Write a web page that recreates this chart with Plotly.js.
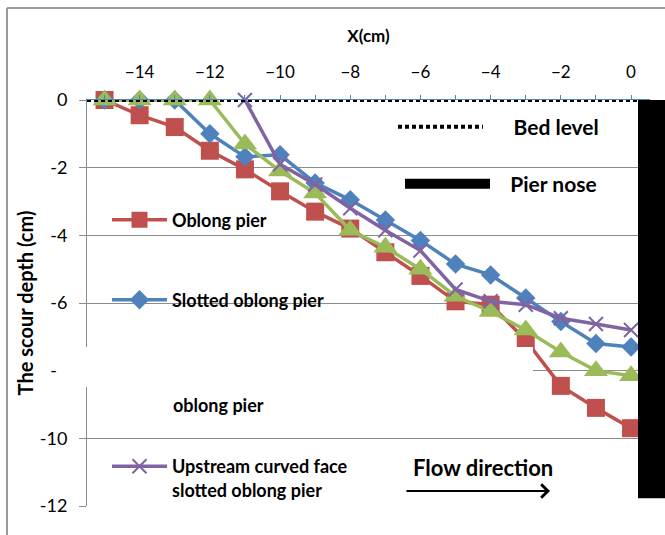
<!DOCTYPE html>
<html>
<head>
<meta charset="utf-8">
<script src="https://cdn.plot.ly/plotly-3.0.1.min.js"></script>
<style>html,body{margin:0;padding:0;background:#fff;}#chart{width:665px;height:535px;}</style>
</head>
<body>
<div id="chart"></div>
<script>
// ---- data ----
const xCm = [-15,-14,-13,-12,-11,-10,-9,-8,-7,-6,-5,-4,-3,-2,-1,0];
const oblongPier = [0,-0.45,-0.8,-1.5,-2.05,-2.7,-3.3,-3.8,-4.5,-5.2,-5.95,-6.05,-7.1,-8.45,-9.1,-9.7];
const slottedOblongPier = [0,0,0,-1.0,-1.68,-1.62,-2.45,-2.95,-3.55,-4.15,-4.85,-5.17,-5.85,-6.55,-7.2,-7.3];
const curvedOblongPier = [0,0,0,0,-1.3,-2.1,-2.75,-3.85,-4.35,-5.0,-5.8,-6.25,-6.8,-7.45,-8.0,-8.15];
const xCmCurvedSlotted = [-11,-10,-9,-8,-7,-6,-5,-4,-3,-2,-1,0];
const curvedSlottedOblongPier = [0,-1.9,-2.5,-3.2,-3.85,-4.45,-5.6,-5.95,-6.05,-6.45,-6.62,-6.8];
const bedLevelX = [-15.5, 0.5];
const bedLevelY = [0, 0];
const pierNoseX = [0.5, 0.5];
const pierNoseY = [0, -11.77];
const xTickVals = [-14,-12,-10,-8,-6,-4,-2,0];
const yTickVals = [0,-2,-4,-6,-8,-10,-12];
const yTickText = ['0','-2','-4','-6','-8','-10','-12'];

// ---- layout helpers (pixel -> paper) ----
const W = 665, H = 535, ML = 87, MR = 0, MT = 100, MB = 29;
const PW = W - ML - MR, PH = H - MT - MB;
const px = v => (v - ML) / PW;
const py = v => (H - MB - v) / PH;

const FONT = 'Lato, "Open Sans", sans-serif';
const RED = '#C0504D', BLUE = '#4F81BD', GREEN = '#9BBB59', PURPLE = '#8064A2';
const GRID = '#8c8c8c';
const NB = '\u00a0';

const traces = [
  {x: xCm, y: oblongPier, name: 'Oblong pier', mode: 'lines+markers', cliponaxis: false,
   line: {color: RED, width: 3.5}, marker: {symbol: 'square', size: 18, color: RED}, legend: 'legend'},
  {x: xCm, y: slottedOblongPier, name: 'Slotted oblong pier', mode: 'lines+markers', cliponaxis: false,
   line: {color: BLUE, width: 3.5}, marker: {symbol: 'diamond', size: 15, color: BLUE}, legend: 'legend2'},
  {x: xCm, y: curvedOblongPier, name: 'Upstream curved face oblong pier', mode: 'lines+markers', cliponaxis: false,
   line: {color: GREEN, width: 3.5}, marker: {symbol: 'triangle-up', size: 21, color: GREEN}, showlegend: false},
  {x: xCmCurvedSlotted, y: curvedSlottedOblongPier, name: 'Upstream curved face<br>slotted oblong pier', mode: 'lines+markers', cliponaxis: false,
   line: {color: PURPLE, width: 3.5}, marker: {symbol: 'x-thin-open', size: 14, color: PURPLE, line: {color: PURPLE, width: 2}}, legend: 'legend3'},
  {x: bedLevelX, y: bedLevelY, name: NB.repeat(5) + 'Bed level', mode: 'lines',
   line: {color: '#000', width: 4, dash: '4px,3px'}, legend: 'legend4'},
  {x: pierNoseX, y: pierNoseY, name: NB.repeat(3) + 'Pier nose', mode: 'lines', xaxis: 'x2', yaxis: 'y2',
   line: {color: '#000', width: 27}, legend: 'legend5'}
];

const legendBase = {xanchor: 'left', bgcolor: 'rgba(0,0,0,0)', borderwidth: 0,
  font: {family: FONT, size: 18, color: '#000', weight: 'bold'}};

const layout = {
  width: W, height: H,
  margin: {l: ML, r: MR, t: MT, b: MB, pad: 0},
  paper_bgcolor: '#fff', plot_bgcolor: 'rgba(0,0,0,0)',
  font: {family: FONT, color: '#000'},
  xaxis: {
    domain: [0, (650 - ML) / PW], range: [-15.5, 0.54], side: 'top', anchor: 'y',
    tickvals: xTickVals, ticks: 'outside', ticklen: 4, tickcolor: BLUE, tickwidth: 1,
    minor: {dtick: 1, tick0: 0, ticks: 'outside', ticklen: 4, tickcolor: BLUE, showgrid: false},
    showline: true, linecolor: BLUE, linewidth: 1, showgrid: false, zeroline: false,
    tickfont: {family: FONT, size: 17, color: '#000'}, ticklabelstandoff: 10,
    title: {text: 'X(cm)', font: {family: FONT, size: 17, color: '#000', weight: 'bold'}, standoff: 14}
  },
  yaxis: {
    range: [-12, 0], tickvals: yTickVals, ticktext: yTickText,
    ticks: 'outside', ticklen: 7, tickcolor: GRID, showline: true, linecolor: GRID, linewidth: 1,
    showgrid: true, gridcolor: GRID, gridwidth: 1, zeroline: false,
    tickfont: {family: FONT, size: 18, color: '#000'}, ticklabelstandoff: 8,
    title: {text: 'The scour depth (cm)', font: {family: FONT, size: 20, color: '#000', weight: 'bold'}, standoff: 0}
  },
  xaxis2: {domain: [px(638), 1], range: [0, 1], anchor: 'y2', visible: false, fixedrange: true},
  yaxis2: {domain: [0, 1], range: [-12, 0], anchor: 'x2', visible: false, fixedrange: true},
  legend: Object.assign({}, legendBase, {x: px(107), y: py(220), yanchor: 'middle', itemwidth: 55}),
  legend2: Object.assign({}, legendBase, {x: px(107), y: py(300), yanchor: 'middle', itemwidth: 55}),
  legend3: Object.assign({}, legendBase, {x: px(107), y: py(448), yanchor: 'top', itemwidth: 55, valign: 'top'}),
  legend4: Object.assign({}, legendBase, {x: px(393), y: py(127), yanchor: 'middle', itemwidth: 85,
    font: {family: FONT, size: 21, color: '#000', weight: 'bold'}}),
  legend5: Object.assign({}, legendBase, {x: px(400), y: py(184), yanchor: 'middle', itemwidth: 85,
    font: {family: FONT, size: 21, color: '#000', weight: 'bold'}}),
  shapes: [
    // white box hiding part of the legend / axis (as in the reference)
    {type: 'rect', xref: 'paper', yref: 'paper', x0: px(57), x1: px(533), y0: py(387), y1: py(347),
     fillcolor: '#fff', line: {width: 0}, layer: 'above'},
    // chart outer border
    {type: 'line', xref: 'paper', yref: 'paper', x0: px(7), x1: px(7), y0: py(535), y1: py(8),
     line: {color: '#9a9a9a', width: 2}},
    {type: 'line', xref: 'paper', yref: 'paper', x0: px(7), x1: px(665), y0: py(8), y1: py(8),
     line: {color: '#9a9a9a', width: 2}}
  ],
  annotations: [
    {xref: 'paper', yref: 'paper', x: px(171), y: py(405), xanchor: 'left', yanchor: 'middle', showarrow: false,
     text: 'oblong pier', font: {family: FONT, size: 18, color: '#000', weight: 'bold'}},
    {xref: 'paper', yref: 'paper', x: px(411), y: py(467), xanchor: 'left', yanchor: 'middle', showarrow: false,
     text: 'Flow direction', font: {family: FONT, size: 22, color: '#000', weight: 'bold'}},
    {xref: 'paper', yref: 'paper', x: px(550), y: py(491), ax: -145, ay: 0, text: '', showarrow: true,
     arrowhead: 4, arrowsize: 1.3, arrowwidth: 2, arrowcolor: '#000'}
  ]
};

Plotly.newPlot('chart', traces, layout, {displayModeBar: false, staticPlot: true});
</script>
</body>
</html>
